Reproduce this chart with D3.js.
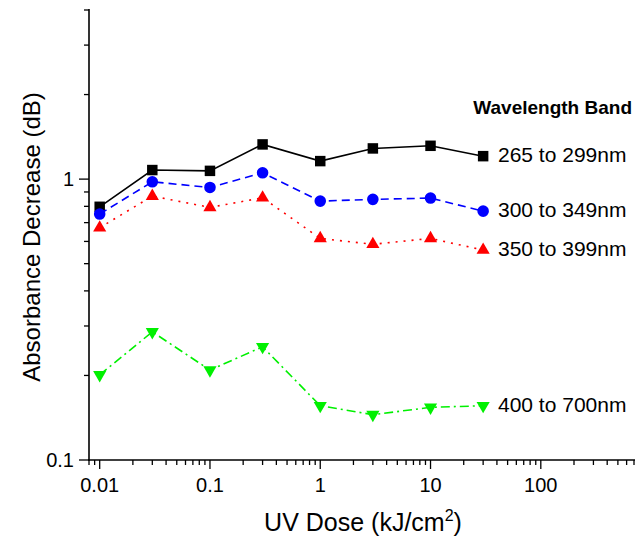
<!DOCTYPE html>
<html>
<head>
<meta charset="utf-8">
<script src="https://cdn.jsdelivr.net/npm/d3@7"></script>
<style>
  html, body { margin: 0; padding: 0; background: #fff; }
  text { font-family: "Liberation Sans", Arial, sans-serif; }
</style>
</head>
<body>
<div id="chart"></div>
<script>
// data
var doses = [0.01, 0.03, 0.1, 0.3, 1, 3, 10, 30];
var bands = ["265 to 299nm", "300 to 349nm", "350 to 399nm", "400 to 700nm"];
var band265 = [0.797, 1.077, 1.070, 1.329, 1.159, 1.286, 1.314, 1.207];
var band300 = [0.751, 0.978, 0.934, 1.053, 0.835, 0.847, 0.856, 0.769];
var band350 = [0.671, 0.870, 0.793, 0.858, 0.615, 0.586, 0.615, 0.559];
var band400 = [0.201, 0.286, 0.209, 0.253, 0.156, 0.145, 0.154, 0.156];
var xTickLabels = ["0.01", "0.1", "1", "10", "100"];
var yTickLabels = ["0.1", "1"];

function init() {
	var w = 635, h = 544;
	var svg = d3.select("#chart").append("svg")
		.attr("width", w)
		.attr("height", h);

	var x = d3.scaleLog().domain([0.008, 700]).range([89, 634]);
	var y = d3.scaleLog().domain([0.1, 4]).range([460, 10]);

	var series = [
		{ name: bands[0], values: band265, color: "#000000", dash: null, symbol: d3.symbolSquare, size: 110, rot: 0 },
		{ name: bands[1], values: band300, color: "#0000ff", dash: "8,5", symbol: d3.symbolCircle, size: 105, rot: 0 },
		{ name: bands[2], values: band350, color: "#ff0000", dash: "2,6", symbol: d3.symbolTriangle, size: 75, rot: 0 },
		{ name: bands[3], values: band400, color: "#00f000", dash: "9,4,2,4", symbol: d3.symbolTriangle, size: 75, rot: 180 }
	];

	// axes: major + minor ticks, drawn by hand from the scales
	var xMinor = [];
	for (var e = -3; e <= 2; e++) {
		for (var m = 1; m <= 9; m++) {
			var v = m * Math.pow(10, e);
			if (v >= 0.008 && v <= 700) xMinor.push(v);
		}
	}
	var yMinor = [];
	for (var e2 = -1; e2 <= 0; e2++) {
		for (var m2 = 1; m2 <= 9; m2++) {
			var v2 = m2 * Math.pow(10, e2);
			if (v2 >= 0.1 && v2 <= 4) yMinor.push(v2);
		}
	}
	function isMajor(d) {
		return Math.abs(Math.log10(d) - Math.round(Math.log10(d))) < 1e-9;
	}

	var xAxis = svg.append("g").attr("transform", "translate(0,460)");
	xAxis.append("line")
		.attr("x1", 88).attr("x2", 635)
		.attr("stroke", "#000").attr("stroke-width", 1.6);
	xAxis.selectAll(".tick")
		.data(xMinor)
		.enter().append("line")
		.attr("x1", function(d) { return x(d); })
		.attr("x2", function(d) { return x(d); })
		.attr("y1", 0)
		.attr("y2", function(d) { return isMajor(d) ? 9 : 5; })
		.attr("stroke", "#000").attr("stroke-width", 1.3);
	xAxis.selectAll(".lbl")
		.data(xTickLabels)
		.enter().append("text")
		.attr("x", function(d) { return x(+d); })
		.attr("y", 32)
		.attr("text-anchor", "middle")
		.attr("font-size", 20)
		.text(function(d) { return d; });

	var yAxis = svg.append("g").attr("transform", "translate(89,0)");
	yAxis.append("line")
		.attr("y1", 9).attr("y2", 461)
		.attr("stroke", "#000").attr("stroke-width", 1.6);
	yAxis.selectAll(".tick")
		.data(yMinor)
		.enter().append("line")
		.attr("y1", function(d) { return y(d); })
		.attr("y2", function(d) { return y(d); })
		.attr("x1", 0)
		.attr("x2", function(d) { return isMajor(d) ? -10 : -5; })
		.attr("stroke", "#000").attr("stroke-width", 1.3);
	yAxis.selectAll(".lbl")
		.data(yTickLabels)
		.enter().append("text")
		.attr("x", -15)
		.attr("y", function(d) { return y(+d) + 7; })
		.attr("text-anchor", "end")
		.attr("font-size", 20)
		.text(function(d) { return d; });

	// axis titles
	var xt = svg.append("text")
		.attr("x", 363).attr("y", 531)
		.attr("text-anchor", "middle")
		.attr("font-size", 25);
	xt.append("tspan").text("UV Dose (kJ/cm");
	xt.append("tspan").attr("font-size", 16).attr("dy", -10).text("2");
	xt.append("tspan").attr("dy", 10).text(")");

	svg.append("text")
		.attr("transform", "translate(40,237) rotate(-90)")
		.attr("text-anchor", "middle")
		.attr("font-size", 24)
		.text("Absorbance Decrease (dB)");

	// series
	var line = d3.line()
		.x(function(d, i) { return x(doses[i]); })
		.y(function(d) { return y(d); });

	series.forEach(function(s) {
		svg.append("path")
			.datum(s.values)
			.attr("d", line)
			.attr("fill", "none")
			.attr("stroke", s.color)
			.attr("stroke-width", 1.6)
			.attr("stroke-dasharray", s.dash);

		svg.selectAll(null)
			.data(s.values)
			.enter().append("path")
			.attr("d", d3.symbol().type(s.symbol).size(s.size))
			.attr("transform", function(d, i) {
				return "translate(" + x(doses[i]) + "," + y(d) + ") rotate(" + s.rot + ")";
			})
			.attr("fill", s.color);

		svg.append("text")
			.attr("x", 498)
			.attr("y", y(s.values[s.values.length - 1]) + 6)
			.attr("font-size", 21)
			.text(s.name);
	});

	svg.append("text")
		.attr("x", 632).attr("y", 114)
		.attr("text-anchor", "end")
		.attr("font-size", 19)
		.attr("font-weight", "bold")
		.text("Wavelength Band");
}

window.onload = init;
</script>
</body>
</html>
